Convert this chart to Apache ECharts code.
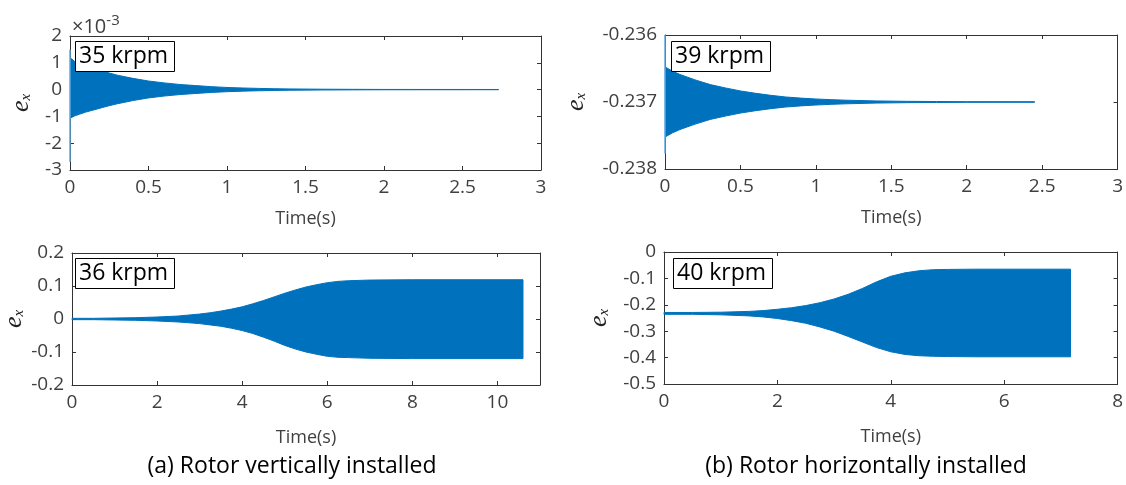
<!DOCTYPE html>
<html>
<head>
<meta charset="utf-8">
<script src="https://cdn.jsdelivr.net/npm/echarts@6/dist/echarts.min.js"></script>
<style>
  html, body { margin: 0; padding: 0; background: #fff; }
  #chart { width: 1126px; height: 485px; }
</style>
</head>
<body>
<div id="chart"></div>
<script>
// ---- (a) vertical rotor, 35 krpm: envelope of e_x in units of 1e-3 ----
const time35 = [0.003, 0.03, 0.06, 0.1, 0.15, 0.2, 0.25, 0.3, 0.35, 0.4, 0.5, 0.6, 0.7, 0.8, 0.9, 1.0, 1.1, 1.2, 1.3, 1.4, 1.6, 1.8, 2.0, 2.73];
const upper35 = [1.18, 1.05, 0.97, 0.88, 0.79, 0.70, 0.62, 0.54, 0.48, 0.42, 0.32, 0.25, 0.19, 0.15, 0.11, 0.08, 0.06, 0.045, 0.033, 0.025, 0.015, 0.01, 0.006, 0.004];
const lower35 = [-1.06, -0.98, -0.92, -0.84, -0.76, -0.68, -0.60, -0.53, -0.47, -0.41, -0.31, -0.24, -0.185, -0.145, -0.105, -0.078, -0.058, -0.044, -0.032, -0.024, -0.015, -0.01, -0.006, -0.004];
const spike35 = [-2.7, 1.5];

// ---- (b) horizontal rotor, 39 krpm ----
const time39 = [0.003, 0.05, 0.1, 0.15, 0.2, 0.25, 0.3, 0.35, 0.4, 0.5, 0.6, 0.7, 0.8, 0.9, 1.0, 1.1, 1.2, 1.4, 1.6, 1.8, 2.0, 2.45];
const upper39 = [-0.23648, -0.23654, -0.23659, -0.23663, -0.23667, -0.236705, -0.23674, -0.236765, -0.23679, -0.236835, -0.23687, -0.2369, -0.236925, -0.236942, -0.236955, -0.236965, -0.236973, -0.236984, -0.23699, -0.236993, -0.236995, -0.236996];
const lower39 = [-0.23752, -0.23746, -0.23741, -0.23737, -0.23733, -0.237295, -0.23726, -0.237235, -0.23721, -0.237165, -0.23713, -0.2371, -0.237075, -0.237058, -0.237045, -0.237035, -0.237027, -0.237016, -0.23701, -0.237007, -0.237005, -0.237004];
const spike39 = [-0.23777, -0.236];

// ---- (a) vertical rotor, 36 krpm ----
const time36 = [0, 0.5, 1, 1.5, 2, 2.5, 3, 3.25, 3.5, 3.75, 4, 4.25, 4.5, 4.75, 5, 5.25, 5.5, 5.75, 6, 6.25, 6.5, 7, 8, 10.6];
const upper36 = [0.002, 0.002, 0.003, 0.004, 0.006, 0.009, 0.015, 0.019, 0.024, 0.030, 0.037, 0.046, 0.056, 0.067, 0.078, 0.088, 0.097, 0.104, 0.110, 0.114, 0.116, 0.118, 0.119, 0.119];
const lower36 = [-0.002, -0.002, -0.003, -0.004, -0.006, -0.009, -0.014, -0.018, -0.022, -0.028, -0.035, -0.044, -0.055, -0.067, -0.080, -0.091, -0.100, -0.107, -0.113, -0.116, -0.117, -0.119, -0.120, -0.120];

// ---- (b) horizontal rotor, 40 krpm ----
const time40 = [0, 0.5, 1, 1.5, 1.75, 2, 2.25, 2.5, 2.75, 3, 3.25, 3.5, 3.75, 4, 4.25, 4.5, 4.75, 5, 5.5, 7.17];
const upper40 = [-0.229, -0.229, -0.228, -0.225, -0.222, -0.217, -0.211, -0.203, -0.192, -0.178, -0.160, -0.138, -0.113, -0.092, -0.079, -0.071, -0.067, -0.066, -0.065, -0.065];
const lower40 = [-0.236, -0.236, -0.238, -0.242, -0.246, -0.252, -0.260, -0.270, -0.284, -0.300, -0.320, -0.341, -0.362, -0.378, -0.388, -0.393, -0.395, -0.396, -0.397, -0.397];

// ---- panel labels and axis ticks ----
const speedLabels = ['35 krpm', '39 krpm', '36 krpm', '40 krpm'];
const captions = ['(a) Rotor vertically installed', '(b) Rotor horizontally installed'];
const xRanges = [[0, 3, 0.5], [0, 3, 0.5], [0, 11, 2], [0, 8, 2]];
const yRanges = [[-3, 2, 1], [-0.238, -0.236, 0.001], [-0.2, 0.2, 0.1], [-0.5, 0, 0.1]];

const FONT = '"Open Sans", "Noto Sans", sans-serif';
const BLUE = '#0072BD';
const SPIKE = '#5AA8E2';
const AXIS = '#333333';
const LABEL = '#404040';
const TICK_FS = 19;

const grids = [
  { left: 70, top: 36, width: 471, height: 134 },
  { left: 665, top: 35, width: 453, height: 134 },
  { left: 70, top: 253, width: 470, height: 132 },
  { left: 664, top: 252, width: 454, height: 132 }
];
const yNameGaps = [36, 76, 45, 52];
const xNameGaps = [40, 40, 44, 44];

const xFormat = [
  v => String(+v.toFixed(1)),
  v => String(+v.toFixed(1)),
  v => String(Math.round(v)),
  v => String(Math.round(v))
];
const yFormat = [
  v => String(Math.round(v)),
  v => v.toFixed(3),
  v => String(+v.toFixed(1)),
  v => String(+v.toFixed(1))
];

const xAxes = [];
const yAxes = [];
grids.forEach((g, i) => {
  const [xmin, xmax, xint] = xRanges[i];
  const [ymin, ymax, yint] = yRanges[i];
  const line = { show: true, onZero: false, lineStyle: { color: AXIS, width: 1 } };
  const tick = { show: true, inside: true, length: 4, lineStyle: { color: AXIS } };
  xAxes.push({
    type: 'value', gridIndex: i, position: 'bottom', min: xmin, max: xmax, interval: xint,
    axisLine: line, axisTick: tick, splitLine: { show: false },
    axisLabel: { color: LABEL, fontFamily: FONT, fontSize: TICK_FS, margin: 8, showMaxLabel: i !== 2,
                 formatter: xFormat[i] },
    name: 'Time(s)', nameLocation: 'middle', nameGap: xNameGaps[i],
    nameTextStyle: { color: LABEL, fontFamily: FONT, fontSize: 18 }
  });
  xAxes.push({
    type: 'value', gridIndex: i, position: 'top', min: xmin, max: xmax, interval: xint,
    axisLine: line, axisTick: tick, axisLabel: { show: false }, splitLine: { show: false }
  });
  yAxes.push({
    type: 'value', gridIndex: i, position: 'left', min: ymin, max: ymax, interval: yint,
    axisLine: line, axisTick: tick, splitLine: { show: false },
    axisLabel: { color: LABEL, fontFamily: FONT, fontSize: TICK_FS, margin: 8, formatter: yFormat[i] },
    name: '{e|e}{x|x}', nameLocation: 'middle', nameGap: yNameGaps[i], nameRotate: 90,
    nameTextStyle: {
      rich: {
        e: { fontFamily: '"Liberation Serif", serif', fontStyle: 'italic', fontSize: 26, color: '#222', lineHeight: 26 },
        x: { fontFamily: '"Liberation Serif", serif', fontStyle: 'italic', fontSize: 15, color: '#222', lineHeight: 26, verticalAlign: 'bottom' }
      }
    }
  });
  yAxes.push({
    type: 'value', gridIndex: i, position: 'right', min: ymin, max: ymax, interval: yint,
    axisLine: line, axisTick: tick, axisLabel: { show: false }, splitLine: { show: false }
  });
});

// Filled envelope of the fast oscillation, drawn as one polygon in data space
function envelope(panel, times, upper, lower) {
  return {
    type: 'custom', xAxisIndex: panel * 2, yAxisIndex: panel * 2,
    data: [[times[0], upper[0]]],
    silent: true, animation: false, z: 2,
    renderItem: function (params, api) {
      const pts = [];
      for (let k = 0; k < times.length; k++) pts.push(api.coord([times[k], upper[k]]));
      for (let k = times.length - 1; k >= 0; k--) pts.push(api.coord([times[k], lower[k]]));
      return { type: 'polygon', shape: { points: pts },
               style: { fill: BLUE, stroke: BLUE, lineWidth: 1 } };
    }
  };
}

// Initial transient at t = 0
function spike(panel, ends) {
  return {
    type: 'line', xAxisIndex: panel * 2, yAxisIndex: panel * 2,
    data: ends.map(v => [0, v]), symbol: 'none', silent: true, animation: false, z: 3,
    lineStyle: { color: SPIKE, width: 1.5 }
  };
}

const series = [
  envelope(0, time35, upper35, lower35), spike(0, spike35),
  envelope(1, time39, upper39, lower39), spike(1, spike39),
  envelope(2, time36, upper36, lower36),
  envelope(3, time40, upper40, lower40)
];

const boxPos = [[75, 41], [671, 41], [75, 258], [673, 258]];
const titles = speedLabels.map((t, i) => ({
  text: t, left: boxPos[i][0], top: boxPos[i][1],
  padding: [1, 7, 2, 4], borderColor: '#000', borderWidth: 1, backgroundColor: '#fff',
  textStyle: { fontFamily: FONT, fontSize: 23, fontWeight: 'normal', color: '#000', lineHeight: 28 }
}));

const option = {
  animation: false,
  backgroundColor: '#fff',
  title: titles,
  grid: grids.map(g => Object.assign({ containLabel: false, show: false }, g)),
  xAxis: xAxes,
  yAxis: yAxes,
  series: series,
  graphic: [
    { type: 'text', x: 72, y: 13, z: 10,
      style: { text: '{b|×10}{s|-3}',
               rich: {
                 b: { fontSize: 20, fontFamily: FONT, fill: LABEL, lineHeight: 24, verticalAlign: 'bottom' },
                 s: { fontSize: 15, fontFamily: FONT, fill: LABEL, lineHeight: 24, verticalAlign: 'top' }
               } } },
    { type: 'text', x: 292, y: 466, z: 10,
      style: { text: captions[0], fill: '#000', font: '23px ' + FONT, textAlign: 'center', align: 'center',
               textVerticalAlign: 'middle', verticalAlign: 'middle' } },
    { type: 'text', x: 866, y: 466, z: 10,
      style: { text: captions[1], fill: '#000', font: '23px ' + FONT, textAlign: 'center', align: 'center',
               textVerticalAlign: 'middle', verticalAlign: 'middle' } }
  ]
};

const chart = echarts.init(document.getElementById('chart'), null, { renderer: 'canvas' });
chart.setOption(option);
</script>
</body>
</html>
